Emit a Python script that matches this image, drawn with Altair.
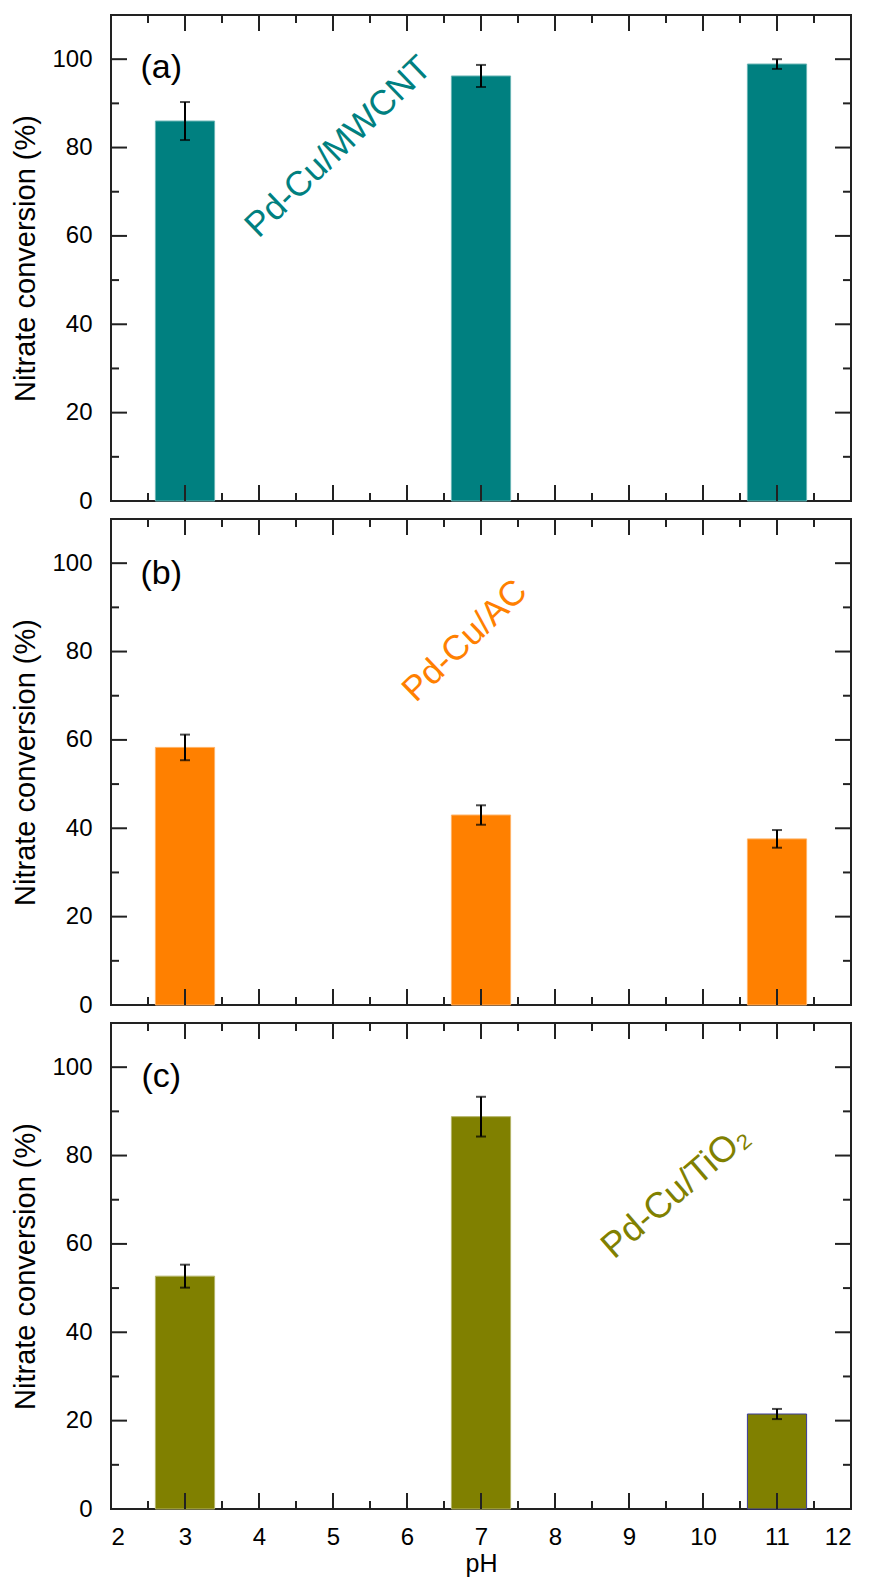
import altair as alt
import pandas as pd

# ---------------- data ----------------
ph = [3, 7, 11]
bar_half_width = 0.4

conv_a = [86.0, 96.2, 98.9]
err_a = [4.3, 2.5, 1.1]
conv_b = [58.3, 43.0, 37.6]
err_b = [2.9, 2.2, 2.0]
conv_c = [52.7, 88.8, 21.5]
err_c = [2.6, 4.5, 1.15]

y_major = [0, 20, 40, 60, 80, 100]
y_minor = [10, 30, 50, 70, 90]
x_major = [2, 3, 4, 5, 6, 7, 8, 9, 10, 11, 12]
x_minor = [2.5, 3.5, 4.5, 5.5, 6.5, 7.5, 8.5, 9.5, 10.5, 11.5]

panel_tags = ["(a)", "(b)", "(c)"]
catalysts = ["Pd-Cu/MWCNT", "Pd-Cu/AC", "Pd-Cu/TiO\u2082"]
# annotation anchors (pH, conversion)
tag_x = [2.68, 2.68, 2.68]
tag_y = [98.0, 97.5, 97.7]
name_x = [5.07, 6.78, 9.63]
name_y = [80.2, 82.5, 71.8]
name_angle = [316, 316, 319]
name_size = [35, 35, 36]

# ---------------- style ----------------
W, H = 740, 486
SANS = '"Liberation Sans", Arial, sans-serif'
colors = ["#008080", "#FF8000", "#808000"]
edges = ["#66b3b3", "#ffb266", "#b3b366"]

xscale = alt.Scale(domain=[2, 12], nice=False, zero=False)
yscale = alt.Scale(domain=[0, 110], nice=False, zero=False)

yax = alt.Axis(values=y_major, ticks=False, tickSize=0, domain=False, grid=False,
               labelPadding=19, labelFontSize=24, labelFont=SANS, labelColor="black",
               title="Nitrate conversion (%)", titleFont=SANS, titleFontSize=29,
               titleFontWeight="normal", titleColor="black", titlePadding=11,
               minExtent=60, maxExtent=60)
xax_bottom = alt.Axis(values=x_major, ticks=False, tickSize=0, domain=False, grid=False,
                      labelPadding=16, labelFontSize=24, labelFont=SANS, labelColor="black",
                      format="d", title="pH", titleFont=SANS, titleFontSize=25,
                      titleFontWeight="normal", titleColor="black", titlePadding=2)


def panel(vals, errs, idx, bottom):
    xax = xax_bottom if bottom else None
    df = pd.DataFrame({
        "pH": ph,
        "lo": [p - bar_half_width for p in ph],
        "hi": [p + bar_half_width for p in ph],
        "v": vals,
        "e_lo": [v - e for v, e in zip(vals, errs)],
        "e_hi": [v + e for v, e in zip(vals, errs)],
    })

    def X(f):
        return alt.X(f, scale=xscale, axis=xax)

    def Y(f):
        return alt.Y(f, scale=yscale, axis=yax)

    if idx == 2:
        stroke = alt.condition("datum.pH == 11", alt.value("#3a3a9a"), alt.value(edges[idx]))
    else:
        stroke = alt.value(edges[idx])

    bars = alt.Chart(df).mark_bar(color=colors[idx], strokeWidth=1).encode(
        x=X("lo:Q"), x2="hi:Q", y=Y("v:Q"), y2=alt.datum(0), stroke=stroke,
    )
    err = alt.Chart(df).mark_rule(color="black", strokeWidth=2).encode(
        x=X("pH:Q"), y=Y("e_lo:Q"), y2="e_hi:Q",
    )
    cap_lo = alt.Chart(df).mark_tick(color="black", orient="horizontal", size=10, thickness=2).encode(
        x=X("pH:Q"), y=Y("e_lo:Q"),
    )
    cap_hi = alt.Chart(df).mark_tick(color="black", orient="horizontal", size=10, thickness=2).encode(
        x=X("pH:Q"), y=Y("e_hi:Q"),
    )

    tick_layers = []
    for vals_t, ln in ((y_major, 16), (y_minor, 8)):
        d = pd.DataFrame({"v": vals_t})
        tick_layers.append(alt.Chart(d).mark_rule(color="#222", strokeWidth=2).encode(
            y=Y("v:Q"), x=alt.value(0), x2=alt.value(ln)))
        tick_layers.append(alt.Chart(d).mark_rule(color="#222", strokeWidth=2).encode(
            y=Y("v:Q"), x=alt.value(W - ln), x2=alt.value(W)))
    for vals_t, ln in ((x_major, 16), (x_minor, 8)):
        d = pd.DataFrame({"lo": vals_t})
        tick_layers.append(alt.Chart(d).mark_rule(color="#222", strokeWidth=2).encode(
            x=X("lo:Q"), y=alt.value(H), y2=alt.value(H - ln)))
        tick_layers.append(alt.Chart(d).mark_rule(color="#222", strokeWidth=2).encode(
            x=X("lo:Q"), y=alt.value(0), y2=alt.value(ln)))

    tdf = pd.DataFrame({"lo": [tag_x[idx]], "v": [tag_y[idx]], "s": [panel_tags[idx]]})
    tag = alt.Chart(tdf).mark_text(
        font=SANS, fontSize=34, color="black", align="center", baseline="middle"
    ).encode(x=X("lo:Q"), y=Y("v:Q"), text="s:N")

    ndf = pd.DataFrame({"lo": [name_x[idx]], "v": [name_y[idx]], "s": [catalysts[idx]]})
    name = alt.Chart(ndf).mark_text(
        font=SANS, fontSize=name_size[idx], color=colors[idx], align="center", baseline="middle",
        angle=name_angle[idx]
    ).encode(x=X("lo:Q"), y=Y("v:Q"), text="s:N")

    return alt.layer(bars, err, cap_lo, cap_hi, *tick_layers, tag, name).properties(width=W, height=H)


chart = alt.vconcat(
    panel(conv_a, err_a, 0, False),
    panel(conv_b, err_b, 1, False),
    panel(conv_c, err_c, 2, True),
    spacing=18,
    bounds="flush",
).properties(
    padding={"left": 2, "top": 5, "right": 5, "bottom": 5},
    background="white",
).configure_view(
    stroke="#222", strokeWidth=2
)

chart.save("out.html", embed_options={"renderer": "svg", "actions": False})
